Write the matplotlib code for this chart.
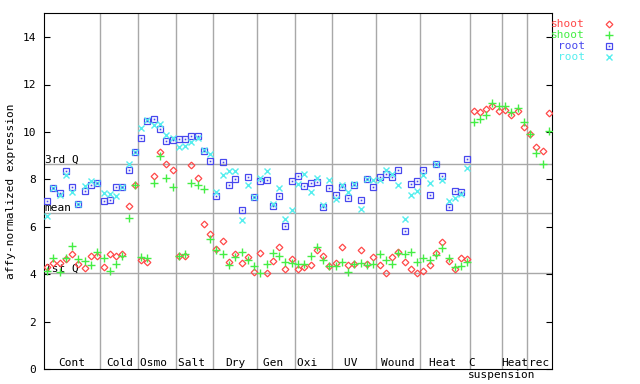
import numpy as np
import matplotlib
matplotlib.use("Agg")
import matplotlib.pyplot as plt

plt.rcParams["font.family"] = "DejaVu Sans Mono"
plt.rcParams["font.size"] = 8

# experiment groups along x (labels, number of samples in each)
groups = ["Cont", "Cold", "Osmo ", "Salt ", "Dry", "Gen ", "Oxi  ", "UV ",
          "Wound", "Heat ", "C    ", "Heat", "rec"]
group_sizes = [9, 6, 6, 6, 7, 6, 6, 7, 7, 8, 5, 4, 4]

# shoot, series 1 (red diamonds)
shoot_1 = [4.30, 4.49, 4.49, 4.66, 4.84, 4.45, 4.28, 4.79, 4.79,
           4.32, 4.84, 4.79, 4.87, 6.86, 7.78,
           4.62, 4.53, 8.15, 9.15, 8.66, 8.41,
           4.79, 4.79, 8.62, 8.07, 6.13, 5.68,
           5.05, 5.42, 4.53, 4.87, 4.49, 4.74, 4.11,
           4.91, 4.07, 4.58, 5.16, 4.24, 4.66,
           4.24, 4.32, 4.41, 5.04, 4.79, 4.37,
           4.49, 5.16, 4.41, 4.45, 5.04, 4.45, 4.74,
           4.41, 4.07, 4.74, 4.95, 4.53, 4.24, 4.07,
           4.15, 4.39, 4.91, 5.37, 4.58, 4.24, 4.70, 4.66,
           10.90, 10.86, 10.98, 11.11, 10.90,
           10.94, 10.73, 10.90, 10.23,
           9.93, 9.38, 9.21, 10.82]
# shoot, series 2 (green plus)
shoot_2 = [4.15, 4.70, 4.11, 4.70, 5.18, 4.66, 4.58, 4.41, 4.95,
           4.70, 4.15, 4.45, 4.79, 6.36, 7.78,
           4.74, 4.70, 7.86, 9.00, 8.07, 7.69,
           4.79, 4.87, 7.86, 7.78, 7.61, 5.50,
           5.01, 4.84, 4.41, 4.74, 4.95, 4.62, 4.37,
           4.07, 4.45, 4.91, 4.79, 4.53, 4.49,
           4.45, 4.45, 4.79, 5.16, 4.62, 4.37,
           4.37, 4.53, 4.11, 4.45, 4.49, 4.41, 4.45,
           4.87, 4.62, 4.45, 4.91, 4.87, 4.95, 4.53,
           4.70, 4.62, 4.83, 5.12, 4.70, 4.32, 4.37, 4.53,
           10.44, 10.56, 10.73, 11.20, 11.11,
           11.11, 10.86, 10.99, 10.44,
           9.93, 9.13, 8.63, 10.05]
nan = np.nan
# root, series 1 (blue squares)
root_1 = [7.10, 7.65, 7.44, 8.34, 7.69, 6.98, 7.52, 7.78, 7.86,
          7.10, 7.14, 7.69, 7.69, 8.41, 9.15,
          9.75, 10.46, 10.55, 10.13, 9.63, 9.67,
          9.71, 9.71, 9.84, 9.84, 9.19, 8.79,
          7.31, 8.74, 7.78, 8.03, 6.72, 8.11, 7.26,
          7.94, 7.99, 6.89, 7.31, 6.05, 7.94,
          8.15, 7.73, 7.86, 7.90, 6.85, 7.65,
          7.35, 7.69, 7.23, 7.78, 7.14, 8.01, 7.69,
          8.11, 8.24, 8.11, 8.41, 5.84, 7.82, 7.94,
          8.41, 7.35, 8.66, 8.15, 6.85, 7.52, 7.48, 8.87,
          nan, nan, nan, nan, nan, nan, nan, nan, nan, nan, nan, nan, nan]
# root, series 2 (cyan crosses)
root_2 = [6.48, 7.65, 7.33, 8.20, 7.48, 6.98, 7.73, 7.95, 7.86,
          7.44, 7.40, 7.31, 7.69, 8.66, 9.15,
          10.18, 10.51, 10.29, 10.33, 9.88, 9.75,
          9.38, 9.42, 9.59, 9.75, 9.25, 9.08,
          7.48, 8.20, 8.35, 8.37, 6.30, 7.78, 7.26,
          8.07, 8.37, 6.98, 7.65, 6.34, 6.72,
          7.82, 8.24, 7.48, 8.07, 6.93, 7.99,
          7.19, 7.78, 7.48, 7.82, 6.76, 8.03, 7.99,
          7.99, 8.38, 8.24, 7.78, 6.34, 7.35, 7.52,
          8.20, 7.84, 8.66, 7.99, 7.10, 7.23, 7.40, 8.49,
          nan, nan, nan, nan, nan, nan, nan, nan, nan, nan, nan, nan, nan]

# reference lines
ref_names = ["3rd Q", "mean", "1st Q"]
ref_values = [8.66, 6.60, 4.07]

RED, GREEN, BLUE, CYAN = "#ff4848", "#44ee44", "#4848ee", "#55eeee"
GRID = "#a8a8a8"

fig = plt.figure(figsize=(6.4, 3.84), dpi=100)
ax = fig.add_axes([44 / 640, 1 - 369.3 / 384, 508 / 640, 356 / 384])

n = sum(group_sizes)
x = np.arange(n) + 0.5
bounds = np.cumsum([0] + group_sizes)

for b in bounds[1:-1]:
    ax.axvline(b, color=GRID, lw=1, zorder=1)
for v in ref_values:
    ax.axhline(v, color=GRID, lw=1, zorder=1)
for name, v in zip(ref_names, ref_values):
    ax.text(0.08, v + 0.06, name, ha="left", va="baseline", fontsize=8, zorder=2)

styles = [
    (shoot_1, dict(marker="D", ms=3.4, mfc="none", mec=RED, mew=0.9)),
    (shoot_2, dict(marker="+", ms=5.5, mec=GREEN, mew=1.0)),
    (root_1, dict(marker="s", ms=4.6, mfc="none", mec=BLUE, mew=0.9)),
    (root_2, dict(marker="x", ms=4.6, mec=CYAN, mew=1.0)),
]
for vals, st in styles:
    ax.plot(x, vals, ls="none", zorder=3, **st)
# centre dot of the root squares
ax.plot(x, root_1, ls="none", marker="s", ms=1.2, mfc=BLUE, mec=BLUE, mew=0, zorder=3)

# group labels
for i, g in enumerate(groups):
    cx = (bounds[i] + bounds[i + 1]) / 2
    ax.text(cx, 0.12, g, ha="center", va="baseline", fontsize=8)
ax.text(bounds[11], -0.35, "suspension", ha="center", va="baseline",
        fontsize=8, clip_on=False)

ax.set_xlim(0, n)
ax.set_ylim(0, 15)
ax.set_xticks([])
ax.set_yticks(np.arange(0, 15, 2))
ax.tick_params(axis="y", direction="in", length=4, width=0.8, left=True,
               right=True, labelsize=8, pad=5.5)
for sp in ax.spines.values():
    sp.set_linewidth(0.8)

fig.text(11 / 640, 1 - 191.3 / 384, "affy-normalized expression", rotation=90,
         ha="center", va="center", fontsize=8)

# legend at the top right
legend_names = ["shoot", "shoot", "root", "root"]
for k, (name, (vals, st)) in enumerate(zip(legend_names, styles)):
    yy = 1 - (24 + 11 * k) / 384
    fig.text(585 / 640, yy, name, color=st["mec"], ha="right", va="center",
             fontsize=8)
    ax.plot([609 / 640], [yy], transform=fig.transFigure, clip_on=False,
            ls="none", **st)
    if k == 2:
        ax.plot([609 / 640], [yy], transform=fig.transFigure, clip_on=False,
                ls="none", marker="s", ms=1.2, mfc=BLUE, mec=BLUE, mew=0)

fig.savefig("out.png", dpi=100)
